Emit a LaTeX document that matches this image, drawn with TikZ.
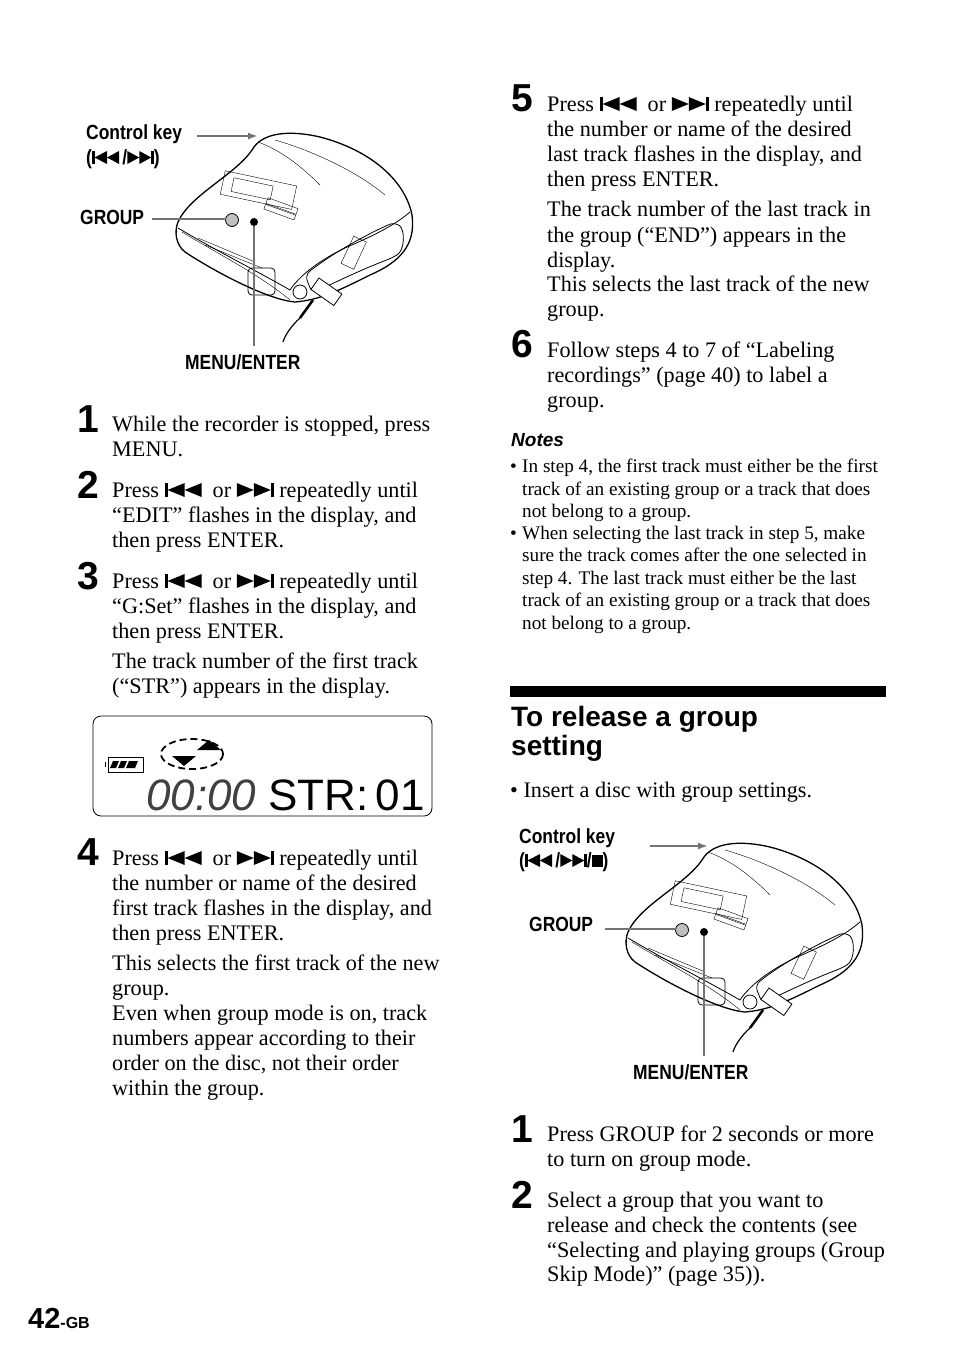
\documentclass[tikz,border=0pt]{standalone}
\usepackage{fontspec}
\usetikzlibrary{arrows.meta}
\setmainfont{Liberation Serif}
\newfontfamily\hd{Liberation Sans}
\newfontfamily\lab{Liberation Sans}[FakeStretch=0.85]
\newcounter{tc}
\newcommand{\prevk}{\tikz[baseline=0pt,x=1pt,y=1pt]{\fill (0,0) rectangle (3,14); \fill (3,7)--(20,14)--(20,0)--cycle; \fill (20,7)--(37,14)--(37,0)--cycle;}}
\newcommand{\nextk}{\tikz[baseline=0pt,x=1pt,y=1pt]{\fill (0,0)--(17,7)--(0,14)--cycle; \fill (17,0)--(34,7)--(17,14)--cycle; \fill (34,0) rectangle (37,14);}}
\newcommand{\sprevk}{\tikz[baseline=0pt,x=1pt,y=1pt]{\fill (0,0) rectangle (2.5,13); \fill (2.5,6.5)--(15,13)--(15,0)--cycle; \fill (15,6.5)--(27,13)--(27,0)--cycle;}}
\newcommand{\snextk}{\tikz[baseline=0pt,x=1pt,y=1pt]{\fill (0,0)--(12,6.5)--(0,13)--cycle; \fill (12,0)--(24,6.5)--(12,13)--cycle; \fill (24,0) rectangle (26.5,13);}}
\newcommand{\stopk}{\tikz[baseline=0pt,x=1pt,y=1pt]{\fill (0,0) rectangle (11,12);}}
\newcommand{\Tx}[3]{\stepcounter{tc}\node[txt] (t\arabic{tc}) at (#1,#2) {#3};}
\newcommand{\Nx}[3]{\stepcounter{tc}\node[num] (n\arabic{tc}) at (#1,#2) {#3};}
\newcommand{\Sx}[3]{\stepcounter{tc}\node[stxt] (s\arabic{tc}) at (#1,#2) {#3};}
\newcommand{\device}[2]{%
\begin{scope}[shift={(#1,#2)}]
 \draw[line width=1.3pt,fill=white] (178,222) .. controls (190,195) and (235,175) .. (252,150)
   .. controls (262,132) and (290,130) .. (320,137) .. controls (370,150) and (405,180) .. (412,215)
   .. controls (416,245) and (400,262) .. (370,275) .. controls (340,290) and (320,300) .. (295,302)
   .. controls (270,300) and (220,275) .. (185,252) .. controls (176,245) and (174,232) .. (178,222) -- cycle;
 \draw[thick] (178,228) .. controls (215,250) and (255,270) .. (290,290);
 \draw[thick] (290,290) .. controls (300,275) and (320,260) .. (345,248) .. controls (375,235) and (395,225) .. (410,212);
 \draw (182,232) .. controls (220,255) and (260,275) .. (290,300);
 \draw (258,142) .. controls (280,150) and (300,165) .. (320,185);
 \draw (275,140) .. controls (310,150) and (355,170) .. (385,195);
 \draw[thick,rounded corners=6pt] (305,275) .. controls (330,255) and (365,235) .. (395,222) .. controls (405,230) and (405,250) .. (392,258) .. controls (360,270) and (330,285) .. (312,293) -- cycle;
 \draw[rotate around={-12:(258,190)}] (222,178) rectangle (295,202);
 \draw[rotate around={-12:(258,190)}] (232,183) rectangle (272,197);
 \draw[rotate around={-20:(282,206)}] (266,203) rectangle (298,209);
 \draw[rotate around={-20:(282,206)}] (266,210) rectangle (298,215);
 \draw[thick,fill=black!25] (232,220) circle (6.5);
 \fill (254,222) circle (4);
 \draw (198,238) -- (255,262); \draw (205,245) -- (262,268);
 \draw[rotate around={-25:(355,250)}] (348,238) rectangle (362,268);
 \draw[thick,rounded corners=4pt] (248,268) rectangle (275,295);
 \draw[thick] (300,292) circle (7);
 \draw[thick,fill=white,rotate around={-35:(325,292)}] (312,284) rectangle (340,298);
 \draw[line width=2.5pt] (313,300) -- (300,318);
 \draw[line width=1.2pt] (300,318) .. controls (292,325) and (285,335) .. (283,342);
\end{scope}}
\begin{document}
\begin{tikzpicture}[x=1pt,y=-1pt,
  txt/.style={anchor=base west,inner sep=0pt,font=\fontsize{22.2}{24}\selectfont},
  stxt/.style={anchor=base west,inner sep=0pt,font=\fontsize{19.2}{20}\selectfont},
  num/.style={anchor=base west,inner sep=0pt,font=\hd\bfseries\fontsize{39}{40}\selectfont},
  lbl/.style={anchor=base west,inner sep=0pt,font=\lab\bfseries\fontsize{20.5}{22}\selectfont},
  lead/.style={line width=1.8pt,draw=black!55},
  hdg/.style={anchor=base west,inner sep=0pt,font=\hd\bfseries\fontsize{28}{30}\selectfont}]
\useasboundingbox (0,0) rectangle (954,1357);
% ---- device 1
\device{0}{0}
\node[lbl] (ck1) at (86,139) {Control key};
\node[lbl] (ck1b) at (86,164) {(\sprevk\,/\snextk)};
\coordinate (ck1a) at (197,136); \coordinate (ck1e) at (258,136);
\draw[lead,-{Latex[length=10pt,width=7pt]}] (ck1a) -- (ck1e);
\node[lbl] (g1) at (80,224) {GROUP};
\coordinate (g1a) at (152,219); \coordinate (g1e) at (226,219);
\draw[lead] (g1a) -- (g1e);
\node[lbl] (m1) at (185,369) {MENU/ENTER};
\coordinate (m1a) at (254,346); \coordinate (m1e) at (254,226);
\draw[lead] (m1a) -- (m1e);
% ---- left column text
\Nx{77}{432}{1}
\Tx{112}{431}{While the recorder is stopped, press}
\Tx{112}{456}{MENU.}
\Nx{77}{498}{2}
\Tx{112}{497}{Press \prevk\ \ or \nextk\ repeatedly until}
\Tx{112}{522}{“EDIT” flashes in the display, and}
\Tx{112}{547}{then press ENTER.}
\Nx{77}{589}{3}
\Tx{112}{588}{Press \prevk\ \ or \nextk\ repeatedly until}
\Tx{112}{613}{“G:Set” flashes in the display, and}
\Tx{112}{638}{then press ENTER.}
\Tx{112}{668}{The track number of the first track}
\Tx{112}{693}{(“STR”) appears in the display.}
% display
\draw[thick,rounded corners=8pt] (93,716) rectangle (432,816);
\draw[thick] (108,757) rectangle (143,772); \draw[thick] (105,762) -- (105,767);
\fill (113,761) -- (119,761) -- (116,768) -- (110,768) -- cycle;
\fill (121,761) -- (127,761) -- (124,768) -- (118,768) -- cycle;
\fill (129,761) -- (138,761) -- (135,768) -- (126,768) -- cycle;
\draw[line width=1.8pt,dash pattern=on 7pt off 4pt] (192,754) ellipse (31 and 15);
\fill (172,756) -- (196,756) -- (184,766) -- cycle;
\fill (197,750) -- (221,750) -- (209,740) -- cycle;
\node[inner sep=0pt,anchor=base west,font=\hd\itshape\fontsize{44}{44}\selectfont,text=black!75] (dig) at (146,810) {00:00};
\node[inner sep=0pt,anchor=base west,font=\hd\fontsize{44}{44}\selectfont] (str) at (268,810) {STR:\,01};
\Nx{77}{865}{4}
\Tx{112}{865}{Press \prevk\ \ or \nextk\ repeatedly until}
\Tx{112}{890}{the number or name of the desired}
\Tx{112}{915}{first track flashes in the display, and}
\Tx{112}{940}{then press ENTER.}
\Tx{112}{970}{This selects the first track of the new}
\Tx{112}{995}{group.}
\Tx{112}{1020}{Even when group mode is on, track}
\Tx{112}{1045}{numbers appear according to their}
\Tx{112}{1070}{order on the disc, not their order}
\Tx{112}{1095}{within the group.}
% ---- right column
\Nx{511}{111}{5}
\Tx{547}{111}{Press \prevk\ \ or \nextk\ repeatedly until}
\Tx{547}{136}{the number or name of the desired}
\Tx{547}{161}{last track flashes in the display, and}
\Tx{547}{186}{then press ENTER.}
\Tx{547}{216}{The track number of the last track in}
\Tx{547}{242}{the group (“END”) appears in the}
\Tx{547}{267}{display.}
\Tx{547}{291}{This selects the last track of the new}
\Tx{547}{316}{group.}
\Nx{511}{357}{6}
\Tx{547}{357}{Follow steps 4 to 7 of “Labeling}
\Tx{547}{382}{recordings” (page 40) to label a}
\Tx{547}{407}{group.}
\node[anchor=base west,inner sep=0pt,font=\hd\bfseries\itshape\fontsize{19}{20}\selectfont] (notes) at (511,446) {Notes};
\Sx{510}{472}{•}\Sx{522}{472}{In step 4, the first track must either be the first}
\Sx{522}{495}{track of an existing group or a track that does}
\Sx{522}{517}{not belong to a group.}
\Sx{510}{539}{•}\Sx{522}{539}{When selecting the last track in step 5, make}
\Sx{522}{561}{sure the track comes after the one selected in}
\Sx{522}{584}{step 4. The last track must either be the last}
\Sx{522}{606}{track of an existing group or a track that does}
\Sx{522}{629}{not belong to a group.}
\fill (510,686) rectangle (886,697);
\node[hdg] (h1) at (511,726) {To release a group};
\node[hdg] (h2) at (511,755) {setting};
\Tx{510}{797}{• Insert a disc with group settings.}
% ---- device 2
\device{450}{710}
\node[lbl] (ck2) at (519,843) {Control key};
\node[lbl] (ck2b) at (519,867) {(\sprevk\,/\snextk/\stopk)};
\coordinate (ck2a) at (650,846); \coordinate (ck2e) at (708,846);
\draw[lead,-{Latex[length=10pt,width=7pt]}] (ck2a) -- (ck2e);
\node[lbl] (g2) at (529,931) {GROUP};
\coordinate (g2a) at (605,929); \coordinate (g2e) at (676,929);
\draw[lead] (g2a) -- (g2e);
\node[lbl] (m2) at (633,1079) {MENU/ENTER};
\coordinate (m2a) at (704,1056); \coordinate (m2e) at (704,936);
\draw[lead] (m2a) -- (m2e);
\Nx{511}{1142}{1}
\Tx{547}{1141}{Press GROUP for 2 seconds or more}
\Tx{547}{1166}{to turn on group mode.}
\Nx{511}{1208}{2}
\Tx{547}{1207}{Select a group that you want to}
\Tx{547}{1232}{release and check the contents (see}
\Tx{547}{1257}{“Selecting and playing groups (Group}
\Tx{547}{1281}{Skip Mode)” (page 35)).}
\node[anchor=base west,inner sep=0pt,font=\hd\bfseries\fontsize{29}{29}\selectfont] (pg) at (28,1328) {42\fontsize{16}{16}\selectfont-GB};
\end{tikzpicture}
\end{document}
